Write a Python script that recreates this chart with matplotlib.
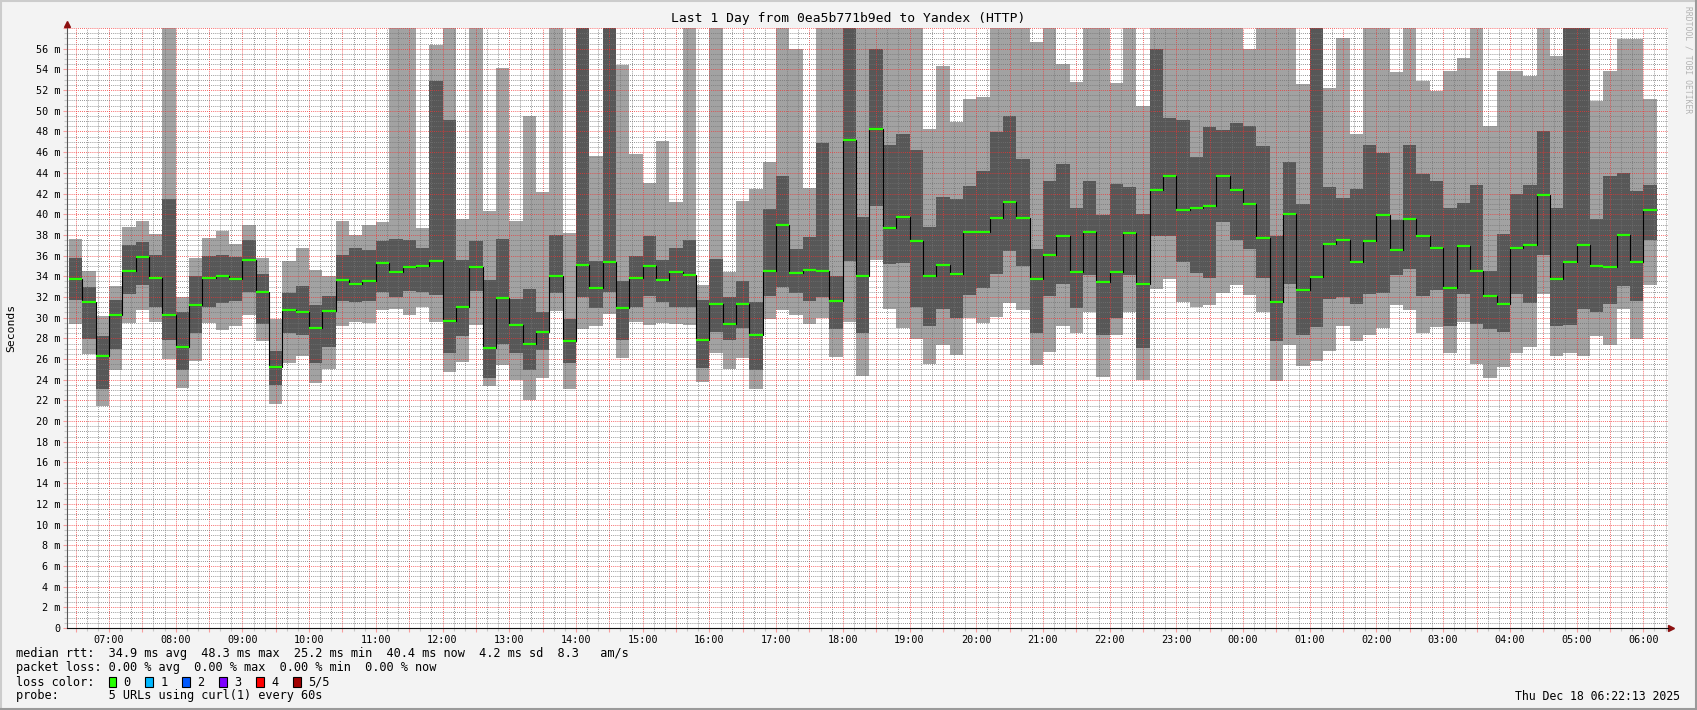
#!/usr/bin/env python3
# smokeping style graph: 1 day of HTTP rtt to Yandex
import numpy as np
import matplotlib
matplotlib.use("Agg")
import matplotlib.pyplot as plt
from matplotlib.ticker import MultipleLocator, FuncFormatter
from matplotlib.patches import Rectangle
from matplotlib.lines import Line2D

T = 60.0    # sample above the top of the graph (gets clipped)

# five sorted samples per 12 min step, in ms
p1 = [29.4, 26.5, 21.5, 24.9, 29.5, 30.7, 29.6, 26.0, 23.2, 25.8,
      29.5, 28.8, 29.2, 30.3, 27.7, 21.7, 25.6, 26.3, 23.7, 25.0,
      29.2, 29.6, 29.5, 30.7, 30.8, 30.3, 31.0, 29.6, 24.7, 25.7,
      29.3, 23.4, 25.4, 24.0, 22.0, 24.2, 30.6, 23.1, 28.9, 29.2,
      30.4, 26.1, 29.6, 29.3, 29.5, 29.4, 29.3, 23.8, 26.6, 25.0,
      26.1, 23.1, 29.9, 30.7, 30.3, 29.4, 30.0, 26.2, 29.6, 24.4,
      35.6, 30.8, 29.0, 27.9, 25.5, 27.4, 26.4, 30.0, 29.5, 30.1,
      31.4, 30.7, 25.4, 26.7, 29.2, 28.5, 30.5, 24.3, 28.3, 30.5,
      24.0, 32.8, 33.7, 31.5, 31.0, 31.2, 32.4, 33.2, 32.2, 30.5,
      23.9, 27.4, 25.3, 25.8, 26.8, 29.2, 27.7, 28.3, 29.0, 31.2,
      30.7, 28.5, 29.1, 26.6, 29.6, 25.5, 24.2, 25.2, 26.6, 27.2,
      32.3, 26.3, 26.6, 26.3, 28.2, 27.4, 30.8, 27.9, 33.2]
p2 = [31.7, 27.9, 23.1, 27.0, 32.3, 33.2, 31.0, 27.8, 24.9, 28.5,
      31.0, 31.4, 31.6, 32.5, 29.4, 23.5, 28.5, 28.3, 25.6, 27.2,
      31.6, 31.5, 31.6, 32.5, 32.0, 32.6, 32.5, 32.2, 26.6, 28.2,
      32.6, 24.2, 27.5, 26.6, 24.9, 26.9, 32.4, 25.6, 32.0, 30.9,
      32.5, 27.8, 31.0, 32.1, 31.5, 31.0, 31.0, 25.1, 28.6, 27.8,
      29.0, 24.9, 32.1, 33.0, 32.4, 31.6, 32.0, 28.9, 35.5, 28.5,
      40.8, 35.2, 35.3, 31.0, 29.2, 30.8, 30.0, 32.2, 32.9, 34.2,
      36.4, 35.0, 28.5, 32.1, 33.3, 30.9, 34.1, 28.3, 30.0, 34.1,
      27.1, 37.9, 37.9, 35.4, 34.3, 33.8, 39.2, 37.5, 36.6, 33.8,
      27.7, 33.3, 28.3, 29.1, 31.8, 32.0, 31.3, 32.3, 32.4, 34.1,
      34.7, 32.1, 32.7, 29.2, 32.3, 29.4, 28.9, 28.6, 32.3, 31.4,
      36.1, 29.2, 29.3, 30.8, 30.5, 31.3, 33.1, 31.6, 37.5]
med = [33.7, 31.5, 26.3, 30.3, 34.5, 35.9, 33.8, 30.3, 27.2, 31.2,
       33.8, 34.0, 33.7, 35.6, 32.5, 25.2, 30.7, 30.5, 29.0, 30.6,
       33.6, 33.3, 33.5, 35.3, 34.4, 34.9, 35.0, 35.5, 29.7, 31.0,
       34.9, 27.1, 31.9, 29.3, 27.5, 28.6, 34.0, 27.7, 35.1, 32.9,
       35.4, 30.9, 33.8, 35.0, 33.6, 34.4, 34.1, 27.8, 31.3, 29.4,
       31.3, 28.3, 34.5, 39.0, 34.3, 34.6, 34.5, 31.6, 47.2, 34.0,
       48.2, 38.7, 39.7, 37.4, 34.0, 35.1, 34.2, 38.3, 38.3, 39.6,
       41.2, 39.6, 33.7, 36.1, 37.9, 34.4, 38.3, 33.4, 34.4, 38.2,
       33.3, 42.3, 43.7, 40.4, 40.6, 40.8, 43.7, 42.3, 41.0, 37.7,
       31.5, 40.0, 32.7, 33.9, 37.1, 37.5, 35.4, 37.4, 39.9, 36.5,
       39.5, 37.9, 36.7, 32.9, 36.9, 34.5, 32.1, 31.3, 36.7, 37.0,
       41.9, 33.7, 35.4, 37.0, 35.0, 34.9, 38.0, 35.4, 40.4]
p4 = [35.8, 33.0, 28.2, 31.7, 37.0, 37.3, 36.1, 41.5, 30.5, 34.0,
      36.0, 36.1, 35.9, 37.5, 34.2, 26.8, 32.4, 33.1, 31.2, 32.1,
      36.1, 36.7, 36.5, 37.4, 37.6, 37.5, 36.7, 52.9, 49.1, 35.6,
      37.4, 33.6, 37.6, 31.8, 32.8, 30.5, 38.0, 29.9, T, 35.5,
      T, 33.5, 36.0, 37.9, 35.6, 36.7, 37.5, 31.7, 35.7, 32.0,
      33.5, 31.5, 40.5, 43.7, 36.6, 37.8, 46.9, 34.0, T, 39.7,
      56.0, 46.7, 47.8, 46.2, 38.8, 41.7, 41.5, 42.7, 44.2, 47.9,
      49.5, 45.3, 36.6, 43.2, 44.9, 40.6, 43.2, 39.9, 42.9, 42.6,
      40.0, 56.0, 49.3, 49.1, 45.5, 48.4, 48.1, 48.8, 48.5, 46.6,
      37.9, 45.0, 41.0, T, 42.6, 41.6, 42.4, 46.7, 45.9, 39.4,
      46.7, 43.9, 43.2, 40.6, 41.1, 42.8, 34.5, 38.1, 42.0, 42.8,
      48.0, 40.6, T, T, 39.5, 43.7, 44.0, 42.2, 42.8]
p5 = [37.6, 34.5, 30.2, 33.1, 38.8, 39.3, 38.1, T, 32.0, 35.8,
      37.7, 38.4, 37.1, 39.0, 35.8, 29.9, 35.5, 36.7, 34.6, 34.0,
      39.3, 38.0, 39.0, 39.2, T, T, 38.7, 56.4, T, 39.5,
      T, 40.3, 54.1, 39.3, 49.5, 42.1, T, 38.2, T, 45.6,
      T, 54.4, 45.8, 43.0, 47.1, 41.2, T, 33.2, T, 34.4,
      41.3, 42.4, 45.0, T, 56.0, 42.5, T, T, T, T,
      T, T, T, T, 48.2, 54.3, 48.9, 51.1, 51.3, T,
      T, T, 56.6, T, 54.5, 52.8, T, T, 52.7, T,
      50.5, T, T, T, T, T, T, T, 56.0, T,
      T, T, 52.6, T, 52.2, 57.0, 47.8, T, T, 53.7,
      T, 52.9, 51.9, 53.8, 55.1, T, 48.5, 53.8, 53.8, 53.4,
      T, 55.3, T, T, 50.9, 53.8, 56.9, 56.9, 51.1]

loss_labels = ["0", "1", "2", "3", "4", "5/5"]
loss_colors = ["#26ff00", "#00b8ff", "#0059ff", "#7e00ff", "#ff0000", "#a10000"]

legend_rows = [
    "median rtt:  34.9 ms avg  48.3 ms max  25.2 ms min  40.4 ms now  4.2 ms sd  8.3   am/s",
    "packet loss: 0.00 % avg  0.00 % max  0.00 % min  0.00 % now",
    "loss color:",
    "probe:       5 URLs using curl(1) every 60s",
]
title = "Last 1 Day from 0ea5b771b9ed to Yandex (HTTP)"
stamp = "Thu Dec 18 06:22:13 2025"

t_start = 6 + 22/60 + 13/3600    # graph starts 24h before 06:22:13
t_first = 6.4                    # first 12 min bin starts 06:24
step = 0.2
edges = t_first + step*np.arange(len(med) + 1)

plt.rcParams['font.family'] = 'DejaVu Sans Mono'

W, H = 1697, 710
fig = plt.figure(figsize=(W/100, H/100), dpi=100, facecolor='#f3f3f3')
ax = fig.add_axes([67/W, 1 - 628/H, 1601/W, 600/H])
ax.set_facecolor('white')
ax.set_xlim(t_start, t_start + 24)
ax.set_ylim(0, 58)

# smoke, outer and inner pairs
ax.stairs(p5, edges, baseline=p1, fill=True, color='#a2a2a2', lw=0, zorder=1)
ax.stairs(p4, edges, baseline=p2, fill=True, color='#575757', lw=0, zorder=1.1)
# median: black joins, green level
ax.stairs(med, edges, baseline=None, color='black', lw=0.8, zorder=3)
ax.hlines(med, edges[:-1], edges[1:], color=loss_colors[0], lw=1.6, zorder=3.5)

# grid, faint dotted
ax.xaxis.set_major_locator(MultipleLocator(0.5))
ax.xaxis.set_minor_locator(MultipleLocator(1/6))
ax.yaxis.set_major_locator(MultipleLocator(2))
ax.yaxis.set_minor_locator(MultipleLocator(0.5))
ax.set_axisbelow(False)
ax.grid(which='major', color=(0.95, 0.2, 0.2, 0.22), ls=(0, (1, 1.5)), lw=0.6)
ax.grid(which='minor', color=(0.45, 0.45, 0.45, 0.13), ls=(0, (1, 1.5)), lw=0.6)

def xfmt(v, pos):
    if abs(v - round(v)) > 1e-6:
        return ''
    return '%02d:00' % (int(round(v)) % 24)

def yfmt(v, pos):
    if v >= 57.9:
        return ''
    return '0' if v == 0 else '%d m' % v

ax.xaxis.set_major_formatter(FuncFormatter(xfmt))
ax.yaxis.set_major_formatter(FuncFormatter(yfmt))
ax.tick_params(which='both', direction='out', labelsize=7.3, width=0.8)
ax.tick_params(which='major', length=3, color=(1, 0, 0, 0.35))
ax.tick_params(which='minor', length=2, color=(0.4, 0.4, 0.4, 0.3))
ax.tick_params(axis='x', pad=2)
ax.tick_params(axis='y', pad=1.5)

for s in ['top', 'right']:
    ax.spines[s].set_visible(False)
ax.spines['left'].set_color('#555555')
ax.spines['bottom'].set_color('#111111')
ax.spines['left'].set_zorder(4)
ax.spines['bottom'].set_zorder(4)
ax.plot(0, 1 + 4/600, marker='^', ms=5, color='#8c1010', transform=ax.transAxes, clip_on=False)
ax.plot(1 + 3/1601, 0, marker='>', ms=5, color='#8c1010', transform=ax.transAxes, clip_on=False)

# texts
fig.text(0.5, 1 - 18.5/H, title, ha='center', va='center', fontsize=9.4)
fig.text(11/W, 1 - 328/H, "Seconds", rotation=90, ha='center', va='center', fontsize=8.2)
fig.text(1688/W, 1 - 6/H, "RRDTOOL / TOBI OETIKER", rotation=270, ha='center', va='top',
         fontsize=5.8, color='#b3b3b3')

row_y = [654, 668, 682, 696]
for txt, y in zip(legend_rows, row_y):
    fig.text(16/W, 1 - y/H, txt, ha='left', va='center', fontsize=8.55)

for i, (lab, col) in enumerate(zip(loss_labels, loss_colors)):
    bx = 108.5 + 36.9*i
    fig.add_artist(Rectangle((bx/W, 1 - (row_y[2] + 5)/H), 8/W, 10/H, transform=fig.transFigure,
                             facecolor=col, edgecolor='black', lw=0.8))
    fig.text((bx + 15)/W, 1 - row_y[2]/H, lab, ha='left', va='center', fontsize=8.55)

fig.text(1680/W, 1 - row_y[3]/H, stamp, ha='right', va='center', fontsize=8.3)

# frame around the picture
fig.add_artist(Line2D([0, 1], [1 - 1/H, 1 - 1/H], color='#cccccc', lw=1.5, transform=fig.transFigure))
fig.add_artist(Line2D([1/W, 1/W], [0, 1], color='#cccccc', lw=1.5, transform=fig.transFigure))
fig.add_artist(Line2D([0, 1], [1/H, 1/H], color='#9a9a9a', lw=1.5, transform=fig.transFigure))
fig.add_artist(Line2D([1 - 1/W, 1 - 1/W], [0, 1], color='#9a9a9a', lw=1.5, transform=fig.transFigure))

fig.savefig('out.png', dpi=100, facecolor=fig.get_facecolor())
